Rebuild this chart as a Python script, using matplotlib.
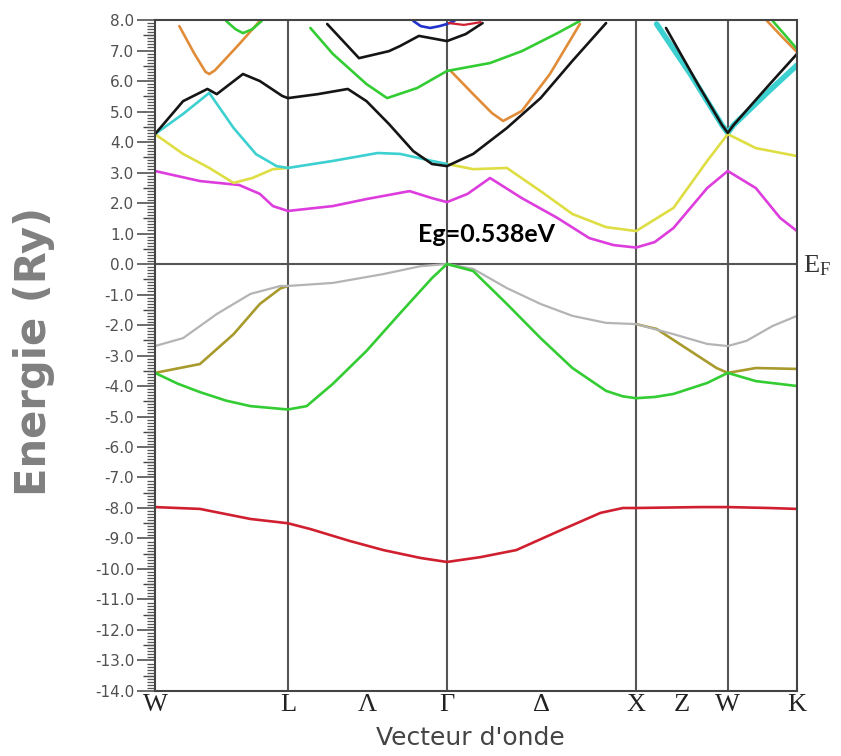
import numpy as np
import matplotlib.pyplot as plt
from matplotlib.ticker import MultipleLocator, FormatStrFormatter

plt.rcParams['axes.unicode_minus'] = False

# high symmetry points along the path (k distance)
sym_k = [0.0, 0.71, 1.56, 2.57, 3.06, 3.43]
tick_k = [0.0, 0.71, 1.135, 1.56, 2.065, 2.57, 2.815, 3.06, 3.43]
tick_lbl = ['W', 'L', 'Λ', 'Γ', 'Δ', 'X', 'Z', 'W', 'K']

# valence bands
red_k = [0, 0.24, 0.51, 0.71, 0.83, 1.04, 1.22, 1.42, 1.56, 1.74, 1.93, 2.16, 2.38, 2.50, 2.57, 2.91, 3.06, 3.28, 3.43]
red_e = [-7.97, -8.03, -8.36, -8.50, -8.69, -9.08, -9.38, -9.64, -9.77, -9.61, -9.38, -8.75, -8.16, -8.0, -8.0, -7.97, -7.97, -8.0, -8.03]

green_v_k = [0, 0.12, 0.24, 0.38, 0.51, 0.71, 0.81, 0.95, 1.13, 1.31, 1.48, 1.56, 1.70, 1.88, 2.06, 2.23, 2.41, 2.50, 2.57, 2.67, 2.77, 2.95, 3.06, 3.21, 3.43]
green_v_e = [-3.57, -3.92, -4.20, -4.48, -4.66, -4.77, -4.66, -3.93, -2.85, -1.61, -0.46, 0.0, -0.23, -1.31, -2.43, -3.41, -4.16, -4.34, -4.40, -4.36, -4.26, -3.90, -3.57, -3.84, -4.00]

gray_k = [0, 0.15, 0.33, 0.51, 0.67, 0.71, 0.95, 1.22, 1.42, 1.56, 1.70, 1.88, 2.06, 2.23, 2.41, 2.57, 2.77, 2.95, 3.06, 3.16, 3.30, 3.43]
gray_e = [-2.69, -2.43, -1.64, -0.98, -0.72, -0.72, -0.62, -0.33, -0.07, 0.0, -0.16, -0.79, -1.31, -1.70, -1.93, -1.97, -2.30, -2.62, -2.69, -2.52, -2.03, -1.70]

olive_wl_k = [0, 0.24, 0.42, 0.56, 0.67, 0.71]
olive_wl_e = [-3.57, -3.28, -2.30, -1.31, -0.80, -0.72]
olive_xk_k = [2.57, 2.68, 2.86, 3.00, 3.06, 3.21, 3.43]
olive_xk_e = [-1.97, -2.13, -2.85, -3.41, -3.57, -3.41, -3.44]

# conduction bands
magenta_k = [0, 0.24, 0.45, 0.56, 0.63, 0.71, 0.95, 1.13, 1.36, 1.48, 1.56, 1.67, 1.79, 1.96, 2.15, 2.32, 2.45, 2.57, 2.67, 2.77, 2.95, 3.06, 3.21, 3.34, 3.43]
magenta_e = [3.05, 2.72, 2.59, 2.30, 1.90, 1.74, 1.90, 2.13, 2.39, 2.16, 2.03, 2.30, 2.82, 2.16, 1.51, 0.85, 0.62, 0.54, 0.72, 1.18, 2.49, 3.05, 2.49, 1.51, 1.08]

yellow_wl_k = [0, 0.15, 0.29, 0.42, 0.52, 0.63, 0.71]
yellow_wl_e = [4.26, 3.61, 3.15, 2.66, 2.82, 3.11, 3.15]
yellow_gk_k = [1.56, 1.70, 1.88, 2.06, 2.23, 2.41, 2.57, 2.77, 2.95, 3.06, 3.21, 3.43]
yellow_gk_e = [3.28, 3.11, 3.15, 2.39, 1.64, 1.21, 1.08, 1.84, 3.38, 4.26, 3.80, 3.54]

cyan_wg_k = [0, 0.15, 0.29, 0.42, 0.54, 0.65, 0.71, 0.95, 1.19, 1.31, 1.48, 1.56]
cyan_wg_e = [4.26, 4.92, 5.61, 4.46, 3.60, 3.21, 3.15, 3.38, 3.64, 3.61, 3.38, 3.28]
cyan_xk_k = [2.68, 2.86, 3.03, 3.06, 3.09, 3.28, 3.43]
cyan_xk_e = [7.87, 6.23, 4.55, 4.30, 4.55, 5.67, 6.52]

black_k = [0, 0.15, 0.28, 0.33, 0.47, 0.56, 0.68, 0.71, 0.87, 1.03, 1.13, 1.25, 1.38, 1.48, 1.56, 1.70, 1.88, 2.06, 2.23, 2.41]
black_e = [4.26, 5.34, 5.74, 5.57, 6.23, 6.00, 5.51, 5.44, 5.57, 5.74, 5.34, 4.59, 3.70, 3.28, 3.21, 3.61, 4.46, 5.44, 6.66, 7.90]
black_xk_k = [2.73, 2.90, 3.03, 3.06, 3.09, 3.28, 3.43]
black_xk_e = [7.74, 5.90, 4.55, 4.30, 4.55, 5.87, 6.89]
black_up_k = [0.92, 1.09, 1.25, 1.31, 1.41, 1.56, 1.66, 1.75]
black_up_e = [7.87, 6.75, 6.98, 7.15, 7.48, 7.31, 7.54, 7.90]

green_c1_k = [0.38, 0.43, 0.47, 0.52, 0.57]
green_c1_e = [7.97, 7.70, 7.57, 7.70, 7.97]
green_c2_k = [0.83, 0.95, 1.13, 1.24, 1.40, 1.56, 1.79, 1.96, 2.15, 2.27]
green_c2_e = [7.74, 6.89, 5.90, 5.44, 5.77, 6.33, 6.59, 6.98, 7.57, 7.97]
green_c3_k = [3.30, 3.36, 3.43]
green_c3_e = [7.97, 7.55, 7.05]

orange1_k = [0.13, 0.21, 0.27, 0.29, 0.32, 0.45, 0.56]
orange1_e = [7.80, 6.90, 6.30, 6.23, 6.35, 7.21, 7.97]
orange2_k = [1.58, 1.70, 1.80, 1.86, 1.96, 2.11, 2.27]
orange2_e = [6.33, 5.57, 4.95, 4.69, 5.02, 6.23, 7.87]
orange3_k = [3.27, 3.35, 3.43]
orange3_e = [7.97, 7.45, 6.95]

blue_k = [1.38, 1.42, 1.47, 1.52, 1.56, 1.60]
blue_e = [7.97, 7.80, 7.74, 7.80, 7.87, 7.97]
red_up_k = [1.57, 1.65, 1.74]
red_up_e = [7.90, 7.84, 7.93]

RED = '#d02030'
GREEN = '#33cc33'
GRAY = '#b4b4b4'
OLIVE = '#a89a2c'
MAGENTA = '#dd3ddd'
YELLOW = '#dede44'
CYAN = '#3cd0d0'
BLACK = '#151515'
ORANGE = '#e08c38'
BLUE = '#2233cc'

bands = [
    (cyan_xk_k, cyan_xk_e, CYAN, 4.0),
    (red_k, red_e, RED, 1.9),
    (olive_wl_k, olive_wl_e, OLIVE, 1.9),
    (olive_xk_k, olive_xk_e, OLIVE, 1.9),
    (gray_k, gray_e, GRAY, 1.6),
    (green_v_k, green_v_e, GREEN, 1.9),
    (magenta_k, magenta_e, MAGENTA, 1.9),
    (yellow_wl_k, yellow_wl_e, YELLOW, 1.9),
    (yellow_gk_k, yellow_gk_e, YELLOW, 1.9),
    (cyan_wg_k, cyan_wg_e, CYAN, 1.9),
    (orange1_k, orange1_e, ORANGE, 1.9),
    (orange2_k, orange2_e, ORANGE, 1.9),
    (orange3_k, orange3_e, ORANGE, 1.9),
    (green_c1_k, green_c1_e, GREEN, 1.9),
    (green_c2_k, green_c2_e, GREEN, 1.9),
    (green_c3_k, green_c3_e, GREEN, 1.9),
    (black_k, black_e, BLACK, 1.9),
    (black_xk_k, black_xk_e, BLACK, 1.9),
    (black_up_k, black_up_e, BLACK, 1.9),
    (blue_k, blue_e, BLUE, 1.9),
    (red_up_k, red_up_e, RED, 1.6),
]

fig = plt.figure(figsize=(8.41, 7.56), dpi=100)
ax = fig.add_axes([0.1843, 0.086, 0.7634, 0.8875])

for k in sym_k[1:-1]:
    ax.axvline(k, color='#555555', lw=1.5, zorder=1)
ax.axhline(0, color='#555555', lw=1.5, zorder=1)

for k, e, c, lw in bands:
    ax.plot(k, e, color=c, lw=lw, solid_capstyle='round', solid_joinstyle='round', zorder=2)

ax.set_xlim(sym_k[0], sym_k[-1])
ax.set_ylim(-14, 8)

for s in ax.spines.values():
    s.set_color('#444444')
    s.set_linewidth(1.5)

ax.set_xticks(tick_k)
ax.set_xticklabels(tick_lbl, fontfamily='Liberation Serif', fontsize=19, color='#222222')
ax.tick_params(axis='x', length=0, pad=2)

ax.yaxis.set_major_locator(MultipleLocator(1.0))
ax.yaxis.set_minor_locator(MultipleLocator(0.1))
ax.yaxis.set_major_formatter(FormatStrFormatter('%.1f'))
ax.tick_params(axis='y', which='major', length=13, width=1.1, color='#444444',
               labelsize=11, labelcolor='#505050', pad=2)
ax.tick_params(axis='y', which='minor', length=6, width=0.9, color='#555555')

# half-unit ticks
sec = ax.secondary_yaxis('left')
sec.set_yticks(np.arange(-13.5, 8, 1.0))
sec.tick_params(length=9, width=1.0, color='#444444', labelleft=False)
sec.spines['left'].set_visible(False)

ax.text(1.77, 0.98, 'Eg=0.538eV', fontfamily='Lato', fontweight='bold',
        fontsize=18, ha='center', va='center', color='black', zorder=5)

fig.text(803 / 841, 1 - 266 / 756, r'$\mathregular{E_F}$', fontfamily='Liberation Serif',
         fontsize=19, color='#333333', ha='left', va='center')

fig.text(0.041, 0.535, 'Energie (Ry)', rotation=90, fontsize=30, fontweight='bold',
         color='#808080', ha='center', va='center')
fig.text(470 / 841, 0.024, "Vecteur d'onde", fontsize=18, color='#444444',
         ha='center', va='center')

fig.savefig('out.png', dpi=100)
